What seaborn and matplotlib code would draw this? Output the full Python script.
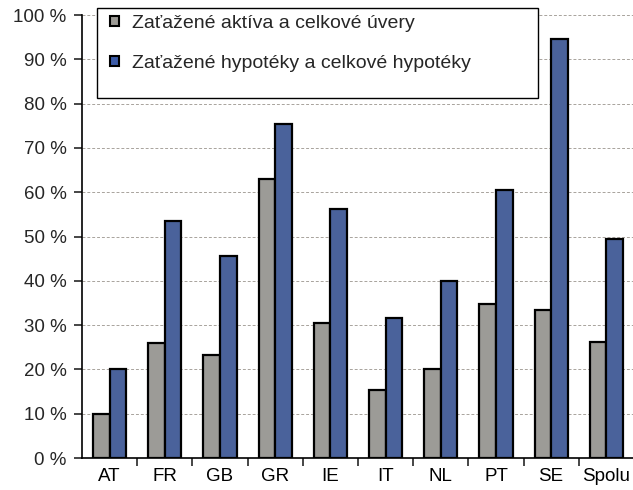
import pandas as pd
import matplotlib.pyplot as plt
import numpy as np
import seaborn as sns
from matplotlib.patches import Patch, Rectangle
from matplotlib.ticker import FixedLocator

# Values (percent)
countries = ['AT', 'FR', 'GB', 'GR', 'IE', 'IT', 'NL', 'PT', 'SE', 'Spolu']
assets_loans = [10.0, 26.0, 23.3, 63.0, 30.5, 15.3, 20.2, 34.7, 33.3, 26.2]
mortgages = [20.0, 53.5, 45.5, 75.5, 56.3, 31.5, 40.0, 60.5, 94.7, 49.5]
series_names = ['Zaťažené aktíva a celkové úvery',
                'Zaťažené hypotéky a celkové hypotéky']
colors = ['#9d9b96', '#3d5ca8']
ytick_labels = [f'{v} %' for v in range(0, 101, 10)]

df = pd.DataFrame({
    'country': countries * 2,
    'value': assets_loans + mortgages,
    'series': [series_names[0]] * len(countries) + [series_names[1]] * len(countries),
})

sns.set_style('white')
plt.rcParams['font.family'] = ['Liberation Sans', 'DejaVu Sans']

fig = plt.figure(figsize=(6.33, 4.9), dpi=100)
ax = fig.add_axes([0.1295, 0.0653, 0.872, 0.904])

sns.barplot(data=df, x='country', y='value', hue='series', palette=colors,
            width=0.6, edgecolor='black', linewidth=1.6, ax=ax, legend=False,
            zorder=3)

ax.set_xlim(-0.5, len(countries) - 0.5)
ax.set_ylim(0, 100)
ax.set_yticks(np.arange(0, 101, 10))
ax.set_yticklabels(ytick_labels)
ax.yaxis.grid(True, linestyle=(0, (3, 2)), color='#a8a39c', linewidth=0.7, zorder=0)
ax.set_axisbelow(True)

# ticks between categories, labels centred under groups
ax.xaxis.set_minor_locator(FixedLocator(np.arange(0.5, len(countries) - 0.5, 1)))
ax.tick_params(axis='x', which='major', length=0, labelsize=13.5, pad=7, colors='black')
ax.tick_params(axis='x', which='minor', length=6, width=1.2, direction='out', bottom=True)
ax.tick_params(axis='y', which='major', length=6, width=1.2, direction='out', left=True,
               labelsize=13.5, pad=5)
ax.set_xlabel('')
ax.set_ylabel('')

for s in ['top', 'right']:
    ax.spines[s].set_visible(False)
for s in ['left', 'bottom']:
    ax.spines[s].set_color('black')
    ax.spines[s].set_linewidth(1.2)

# legend box drawn separately (more room below the entries than above)
ax.add_patch(Rectangle((0.027, 0.813), 0.799, 0.203, transform=ax.transAxes,
                       facecolor='white', edgecolor='black', linewidth=1.0,
                       clip_on=False, zorder=5))
handles = [Patch(facecolor=c, edgecolor='black', linewidth=1.5) for c in colors]
leg = ax.legend(handles, series_names, loc='upper left',
                bbox_to_anchor=(0.038, 1.016), borderaxespad=0, fontsize=14,
                frameon=False, handlelength=0.45, handleheight=0.45,
                handletextpad=0.7, labelspacing=1.2, borderpad=0.35)
leg.set_zorder(6)

fig.savefig('out.png', dpi=100)
